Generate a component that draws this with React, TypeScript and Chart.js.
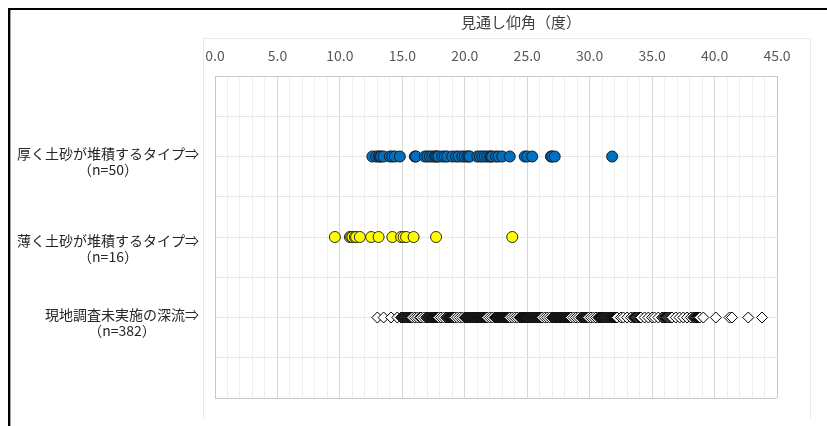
import React, { useEffect, useRef } from "react";
import { Chart, registerables } from "chart.js";

Chart.register(...registerables);

// 見通し仰角（度）の分布：渓流タイプ別
const axisTitle = "見通し仰角（度）";
const xMin = 0;
const xMax = 45;
const xMajorStep = 5;
const xMinorStep = 1;

const categoryNames = [
  "厚く土砂が堆積するタイプ⇒",
  "薄く土砂が堆積するタイプ⇒",
  "現地調査未実施の深流⇒",
];
const categoryRows = [3, 2, 1];

// 厚く土砂が堆積するタイプ (n=50)
const thickDeposit = [
  12.6, 12.9, 13.1, 13.2, 13.3, 13.5, 14.0, 14.2, 14.4, 14.8,
  16.0, 16.1, 16.8, 17.0, 17.2, 17.4, 17.6, 17.7, 17.8, 17.9,
  18.2, 18.4, 18.6, 19.0, 19.3, 19.5, 19.8, 20.0, 20.2, 20.3,
  20.4, 21.0, 21.2, 21.4, 21.6, 21.8, 22.0, 22.1, 22.2, 22.5,
  22.7, 23.0, 23.6, 24.8, 25.0, 25.4, 26.9, 27.0, 27.2, 31.8,
];

// 薄く土砂が堆積するタイプ (n=16)
const thinDeposit = [
  9.6, 10.8, 10.9, 11.0, 11.2, 11.3, 11.6, 12.5,
  13.1, 14.2, 14.9, 15.1, 15.3, 15.9, 17.7, 23.8,
];

// 現地調査未実施の深流 (n=382)
const unsurveyed = [
  13.0, 13.5, 14.1, 14.6,
  14.90, 14.95, 15.00, 15.04, 15.09, 15.14, 15.19, 15.23, 15.28, 15.33,
  15.38, 15.42, 15.47, 15.52, 15.57, 15.61, 15.66, 15.71, 15.76, 15.80,
  16.0, 16.2, 16.4, 16.5, 16.7, 16.9,
  17.00, 17.04, 17.08, 17.12, 17.16, 17.20, 17.25, 17.29, 17.33, 17.37,
  17.41, 17.45, 17.49, 17.53, 17.57, 17.61, 17.65, 17.70, 17.74, 17.78,
  17.82, 17.86, 17.90,
  18.1, 18.3, 18.5,
  18.60, 18.64, 18.69, 18.73, 18.77, 18.81, 18.86, 18.90, 18.94, 18.99,
  19.03, 19.07, 19.11, 19.16, 19.20,
  19.4, 19.6, 19.8,
  20.00, 20.03, 20.06, 20.09, 20.13, 20.16, 20.19, 20.22, 20.25, 20.28,
  20.32, 20.35, 20.38, 20.41, 20.44, 20.47, 20.51, 20.54, 20.57, 20.60,
  20.63, 20.66, 20.69, 20.73, 20.76, 20.79, 20.82, 20.85, 20.88, 20.92,
  20.95, 20.98, 21.01, 21.04, 21.07, 21.11, 21.14, 21.17, 21.20, 21.23,
  21.26, 21.29, 21.33, 21.36, 21.39, 21.42, 21.45, 21.48, 21.52, 21.55,
  21.58, 21.61, 21.64, 21.67, 21.71, 21.74, 21.77, 21.80,
  22.0, 22.2,
  22.40, 22.43, 22.47, 22.50, 22.53, 22.57, 22.60, 22.63, 22.67, 22.70,
  22.73, 22.77, 22.80, 22.83, 22.87, 22.90, 22.93, 22.97, 23.00, 23.03,
  23.07, 23.10, 23.13, 23.17, 23.20, 23.23, 23.27, 23.30, 23.33, 23.37,
  23.40, 23.43, 23.47, 23.50, 23.53, 23.57, 23.60,
  23.8, 24.0, 24.2,
  24.40, 24.43, 24.46, 24.50, 24.53, 24.56, 24.59, 24.62, 24.66, 24.69,
  24.72, 24.75, 24.79, 24.82, 24.85, 24.88, 24.91, 24.95, 24.98, 25.01,
  25.04, 25.08, 25.11, 25.14, 25.17, 25.20, 25.24, 25.27, 25.30, 25.33,
  25.36, 25.40, 25.43, 25.46, 25.49, 25.53, 25.56, 25.59, 25.62, 25.65,
  25.69, 25.72, 25.75, 25.78, 25.81, 25.85, 25.88, 25.91, 25.94, 25.98,
  26.01, 26.04, 26.07, 26.10, 26.14, 26.17, 26.20,
  26.4, 26.6, 26.8,
  27.00, 27.04, 27.07, 27.11, 27.14, 27.18, 27.21, 27.25, 27.29, 27.32,
  27.36, 27.39, 27.43, 27.46, 27.50, 27.54, 27.57, 27.61, 27.64, 27.68,
  27.71, 27.75, 27.79, 27.82, 27.86, 27.89, 27.93, 27.96, 28.00, 28.04,
  28.07, 28.11, 28.14, 28.18, 28.21, 28.25, 28.29, 28.32, 28.36, 28.39,
  28.43, 28.46, 28.50,
  28.7, 28.9, 29.1, 29.3,
  29.40, 29.45, 29.50, 29.55, 29.60, 29.65, 29.70, 29.75, 29.80, 29.85,
  29.90,
  30.1, 30.3, 30.5,
  30.70, 30.74, 30.78, 30.83, 30.87, 30.91, 30.95, 30.99, 31.03, 31.08,
  31.12, 31.16, 31.20, 31.24, 31.28, 31.33, 31.37, 31.41, 31.45, 31.49,
  31.53, 31.58, 31.62, 31.66, 31.70, 31.74, 31.78, 31.83, 31.87, 31.91,
  31.95, 31.99, 32.03, 32.08, 32.12, 32.16, 32.20,
  32.5, 32.7, 33.0, 33.3,
  33.50, 33.57, 33.63, 33.70, 33.77, 33.83, 33.90, 33.97, 34.03, 34.10,
  34.4, 34.7, 35.0, 35.2, 35.5, 35.8,
  35.90, 35.97, 36.04, 36.11, 36.18, 36.25, 36.32, 36.39, 36.46, 36.53,
  36.60,
  36.9, 37.2, 37.5, 37.8, 38.1,
  38.30, 38.37, 38.45, 38.52, 38.60, 38.67, 38.75, 38.82, 39.10,
  40.1, 41.2, 41.4, 42.7, 43.8,
];

const seriesValues = [thickDeposit, thinDeposit, unsurveyed];

const FONT = "'Noto Sans CJK JP', 'Noto Sans', sans-serif";

const toPoints = (values: number[], row: number) =>
  values.map((v) => ({ x: v, y: row }));

const isMajor = (v: number) => Math.abs(v % xMajorStep) < 1e-9;

// frame, axis title and two-line category labels
const decorations = {
  id: "decorations",
  beforeDraw(chart: any) {
    const { ctx } = chart;
    ctx.save();
    ctx.fillStyle = "#ffffff";
    ctx.fillRect(0, 0, chart.width, chart.height);
    // faint chart-area outline
    ctx.strokeStyle = "#e8e8e8";
    ctx.lineWidth = 1;
    ctx.beginPath();
    ctx.moveTo(203.5, 418);
    ctx.lineTo(203.5, 38.5);
    ctx.lineTo(810.5, 38.5);
    ctx.lineTo(810.5, 418);
    ctx.stroke();
    // page border
    ctx.fillStyle = "#000000";
    ctx.fillRect(8, 8, chart.width - 8, 2);
    ctx.fillRect(8, 8, 2, chart.height - 8);
    ctx.fillStyle = "#a0a0a0";
    ctx.fillRect(10, 10, 1, chart.height - 10);
    ctx.restore();
  },
  afterDraw(chart: any) {
    const { ctx, chartArea } = chart;
    const yScale = chart.scales.y;
    ctx.save();
    ctx.textBaseline = "middle";

    ctx.font = `15px ${FONT}`;
    ctx.fillStyle = "#404040";
    ctx.textAlign = "center";
    ctx.fillText(axisTitle, 521, 22);

    ctx.font = `14px ${FONT}`;
    ctx.fillStyle = "#262626";
    const right = chartArea.left - 16;
    const nudges = [0, 7, 0];
    categoryNames.forEach((name, i) => {
      const py = yScale.getPixelForValue(categoryRows[i]) + nudges[i];
      const w = ctx.measureText(name).width;
      const cx = right - w / 2;
      ctx.textAlign = "center";
      ctx.fillText(name, cx, py - 3);
      ctx.fillText(`（n=${seriesValues[i].length}）`, cx, py + 13);
    });
    ctx.restore();
  },
};

export default function App() {
  const canvasRef = useRef<HTMLCanvasElement>(null);

  useEffect(() => {
    const canvas = canvasRef.current;
    if (!canvas) return;
    const chart = new Chart(canvas, {
      type: "scatter",
      data: {
        datasets: [
          {
            label: categoryNames[0],
            data: toPoints(thickDeposit, categoryRows[0]),
            pointStyle: "circle",
            pointRadius: 5.5,
            backgroundColor: "#0070C0",
            borderColor: "#1c1c1c",
            borderWidth: 1,
          },
          {
            label: categoryNames[1],
            data: toPoints(thinDeposit, categoryRows[1]),
            pointStyle: "circle",
            pointRadius: 5.5,
            backgroundColor: "#FFFF00",
            borderColor: "#2a2a2a",
            borderWidth: 1,
          },
          {
            label: categoryNames[2],
            data: toPoints(unsurveyed, categoryRows[2]),
            pointStyle: "rectRot",
            pointRadius: 5.5,
            backgroundColor: "#ffffff",
            borderColor: "#000000",
            borderWidth: 1,
          },
        ],
      },
      options: {
        animation: false,
        responsive: false,
        events: [],
        layout: { padding: { left: 215, right: 50, top: 0, bottom: 28 } },
        plugins: {
          legend: { display: false },
          tooltip: { enabled: false },
          title: { display: false },
        },
        scales: {
          x: {
            type: "linear",
            position: "top",
            min: xMin,
            max: xMax,
            afterFit: (scale: any) => {
              scale.height = 76;
            },
            ticks: {
              stepSize: xMinorStep,
              autoSkip: false,
              maxRotation: 0,
              minRotation: 0,
              padding: 12,
              color: "#595959",
              font: { family: FONT, size: 14 },
              callback: (v: any) => (isMajor(Number(v)) ? Number(v).toFixed(1) : ""),
            },
            grid: {
              drawTicks: false,
              lineWidth: 1,
              color: (c: any) => {
                const v = c.tick ? c.tick.value : 0;
                if (v === xMin || v === xMax) return "#c8c8c8";
                return isMajor(v) ? "#d6d6d6" : "#efefef";
              },
            },
            border: { display: true, color: "#c8c8c8" },
          },
          y: {
            type: "linear",
            min: 0,
            max: 4,
            afterFit: (scale: any) => {
              scale.width = 0;
            },
            ticks: { stepSize: 0.5, display: false },
            grid: {
              drawTicks: false,
              lineWidth: 1,
              color: (c: any) => {
                const v = c.tick ? c.tick.value : 0;
                if (v === 0 || v === 4) return "#c8c8c8";
                return "#e6e6e6";
              },
            },
            border: { display: true, color: "#c8c8c8" },
          },
        },
      },
      plugins: [decorations],
    } as any);
    return () => chart.destroy();
  }, []);

  return (
    <div
      style={{
        position: "fixed",
        left: 0,
        top: 0,
        width: 827,
        height: 426,
        background: "#ffffff",
      }}
    >
      <canvas ref={canvasRef} width={827} height={426} style={{ display: "block" }} />
    </div>
  );
}
